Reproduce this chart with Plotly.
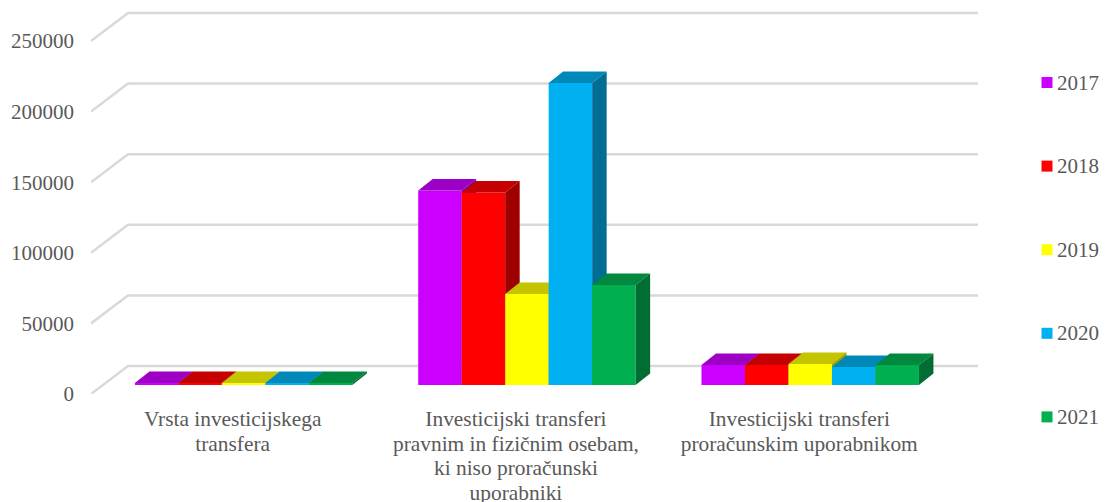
import plotly.graph_objects as go

category_lines = [["Vrsta investicijskega", "transfera"],
                  ["Investicijski transferi", "pravnim in fizičnim osebam,", "ki niso proračunski", "uporabniki"],
                  ["Investicijski transferi", "proračunskim uporabnikom"]]
years = ["2017", "2018", "2019", "2020", "2021"]
v2017 = [1400, 137750, 14160]
v2018 = [1400, 136300, 14160]
v2019 = [1400, 64400, 14900]
v2020 = [1400, 213900, 12750]
v2021 = [1400, 70800, 14160]
series = [v2017, v2018, v2019, v2020, v2021]
front = [(204, 0, 255), (255, 0, 0), (255, 255, 0), (0, 176, 240), (0, 176, 80)]
y_ticks = [0, 50000, 100000, 150000, 200000, 250000]

TEXT = "#595959"
GRID = "#d9d9d9"
FONT = "Liberation Serif"
X_MAX, Y_MAX = 3.131, 273371
WALL_DX, WALL_DY = 0.1306, 19830
BAR_DX, BAR_DY = 0.0512, 8144
BASE = 6374
BAR_W = 0.1535
GROUP_LEFT = 0.155
PLOT_L, PLOT_B, PLOT_W, PLOT_H = 91, 394, 887, 386


def shade(c, f):
    return "rgb(%d,%d,%d)" % tuple(round(a * f) for a in c)


def paper_x(px):
    return (px - PLOT_L) / PLOT_W


def paper_y(px):
    return (PLOT_B - px) / PLOT_H


ticktext = ["<br>".join(f'<span style="font-size:21.4px">{s}</span>' for s in lines)
            for lines in category_lines]

fig = go.Figure()

gx, gy = [], []
for t in y_ticks:
    gx += [0, WALL_DX, X_MAX, None]
    gy += [t, t + WALL_DY, t + WALL_DY, None]
fig.add_trace(go.Scatter(x=gx, y=gy, mode="lines", line=dict(color=GRID, width=2.5),
                         showlegend=False, hoverinfo="skip"))

layout_axes = {}
for i, (year, vals, col) in enumerate(zip(years, series, front)):
    n = i + 2
    xa, ya = f"x{n}", f"y{n}"
    xs = [k + GROUP_LEFT + BAR_W * (i + 0.5) for k in range(3)]
    fig.add_trace(go.Bar(x=xs, y=vals, base=BASE, width=BAR_W, name=year, xaxis=xa, yaxis=ya,
                         marker=dict(color=shade(col, 1), line=dict(width=0))))
    for xc, v in zip(xs, vals):
        l, r, b, t = xc - BAR_W / 2, xc + BAR_W / 2, BASE, BASE + v
        fig.add_trace(go.Scatter(
            x=[l, r, r + BAR_DX, l + BAR_DX, l], y=[t, t, t + BAR_DY, t + BAR_DY, t],
            mode="lines", fill="toself", fillcolor=shade(col, 0.77), line=dict(width=0),
            xaxis=xa, yaxis=ya, showlegend=False, hoverinfo="skip"))
        fig.add_trace(go.Scatter(
            x=[r, r + BAR_DX, r + BAR_DX, r, r], y=[b, b + BAR_DY, t + BAR_DY, t, b],
            mode="lines", fill="toself", fillcolor=shade(col, 0.62), line=dict(width=0),
            xaxis=xa, yaxis=ya, showlegend=False, hoverinfo="skip"))
    layout_axes[f"xaxis{n}"] = dict(overlaying="x", range=[0, X_MAX], visible=False)
    layout_axes[f"yaxis{n}"] = dict(overlaying="y", range=[0, Y_MAX], visible=False)

shapes, annotations = [], []
for i, (year, col) in enumerate(zip(years, front)):
    cy = 82.5 + 83.6 * i
    shapes.append(dict(type="rect", xref="paper", yref="paper",
                       x0=paper_x(1041.5), x1=paper_x(1052.5),
                       y0=paper_y(cy - 5.5), y1=paper_y(cy + 5.5),
                       fillcolor=shade(col, 1), line=dict(width=0)))
    annotations.append(dict(xref="paper", yref="paper", x=paper_x(1056), y=paper_y(cy),
                            xanchor="left", yanchor="middle", text=year, showarrow=False,
                            borderpad=0, font=dict(size=21, color=TEXT, family=FONT)))

fig.update_layout(
    width=1105, height=502,
    margin=dict(l=PLOT_L, r=127, t=8, b=108, autoexpand=False),
    paper_bgcolor="white", plot_bgcolor="white",
    font=dict(family=FONT, color=TEXT),
    showlegend=False,
    shapes=shapes, annotations=annotations,
    xaxis=dict(range=[0, X_MAX], tickmode="array", tickvals=[0.5, 1.5, 2.5], ticktext=ticktext,
               tickangle=0, showgrid=False, zeroline=False, showline=False, ticks="",
               tickfont=dict(size=19, color=TEXT), ticklabelstandoff=12),
    yaxis=dict(range=[0, Y_MAX], tickmode="array", tickvals=y_ticks, ticktext=[str(t) for t in y_ticks],
               showgrid=False, zeroline=False, showline=False, ticks="",
               tickfont=dict(size=21, color=TEXT), ticklabelstandoff=16),
    **layout_axes,
)
fig.write_html("out.html", config=dict(displayModeBar=False),
               post_script="document.documentElement.style.margin='0';document.body.style.margin='0';document.body.style.padding='0';")
